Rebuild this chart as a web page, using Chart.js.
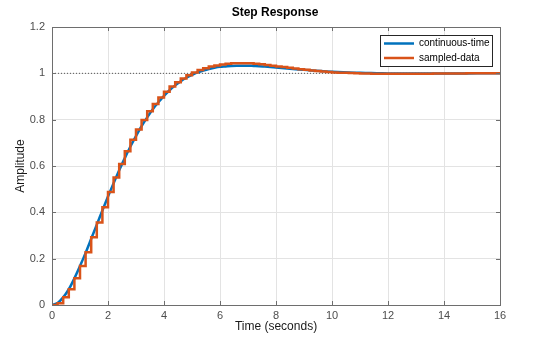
<!DOCTYPE html>
<html>
<head>
<meta charset="utf-8">
<title>Step Response</title>
<script src="https://cdn.jsdelivr.net/npm/chart.js@4/dist/chart.umd.min.js"></script>
<style>
  html, body { margin: 0; padding: 0; background: #fff; }
</style>
</head>
<body>
<canvas id="step-chart" width="550" height="348"></canvas>
<script>
// continuous-time response (time in seconds, amplitude)
const tCont = [0, 0.2, 0.4, 0.6, 0.8, 1.0, 1.2, 1.4, 1.6, 1.8,
               2.0, 2.2, 2.4, 2.6, 2.8, 3.0, 3.2, 3.4, 3.6, 3.8,
               4.0, 4.2, 4.4, 4.6, 4.8, 5.0, 5.2, 5.4, 5.6, 5.8,
               6.0, 6.2, 6.4, 6.6, 6.8, 7.0, 7.2, 7.4, 7.6, 7.8,
               8.0, 8.4, 8.8, 9.2, 9.6, 10, 10.4, 10.8, 11.2, 11.6,
               12, 12.8, 13.6, 14.4, 15.2, 16];
const yCont = [0, 0.009, 0.033, 0.068, 0.115, 0.168, 0.225, 0.286, 0.347, 0.408,
               0.468, 0.526, 0.582, 0.634, 0.684, 0.729, 0.772, 0.810, 0.845, 0.875,
               0.903, 0.927, 0.948, 0.966, 0.981, 0.993, 1.004, 1.012, 1.019, 1.024,
               1.028, 1.030, 1.032, 1.033, 1.033, 1.033, 1.032, 1.031, 1.029, 1.027,
               1.025, 1.021, 1.017, 1.013, 1.010, 1.007, 1.005, 1.003, 1.0015, 1.0004,
               0.9997, 0.9993, 0.9993, 0.9996, 0.9999, 1.0];

// sampled-data response, one value per sample (Ts = 0.2 s)
const sampleTime = 0.2;
const ySamp = [0, 0.008, 0.033, 0.068, 0.115, 0.168, 0.228, 0.292, 0.356, 0.422,
               0.488, 0.550, 0.609, 0.664, 0.713, 0.758, 0.799, 0.836, 0.868, 0.896,
               0.921, 0.943, 0.962, 0.978, 0.992, 1.004, 1.014, 1.022, 1.029, 1.034,
               1.038, 1.041, 1.043, 1.044, 1.044, 1.043, 1.041, 1.039, 1.036, 1.033,
               1.030, 1.027, 1.024, 1.021, 1.018, 1.015, 1.012, 1.010, 1.008, 1.006,
               1.004, 1.003, 1.002, 1.001, 1.000, 0.999, 0.999, 0.998, 0.998, 0.998,
               0.998, 0.998, 0.998, 0.998, 0.998, 0.998, 0.998, 0.998, 0.999, 0.999,
               0.999, 0.999, 0.999, 0.999, 1.000, 1.000, 1.000, 1.000, 1.000, 1.000,
               1.000];

// steady-state value, drawn as a dotted reference
const finalValue = 1;

const xTicks = [0, 2, 4, 6, 8, 10, 12, 14, 16];
const yTicks = [0, 0.2, 0.4, 0.6, 0.8, 1.0, 1.2];

const FONT = '"Liberation Sans", Arial, Helvetica, sans-serif';
const BLUE = '#0072BD';
const ORANGE = '#D95319';
const AXIS = '#6e6e6e';
const GRID = '#e3e3e3';

const contPoints = tCont.map((t, i) => ({ x: t, y: yCont[i] }));
const sampPoints = ySamp.map((v, k) => ({ x: k * sampleTime, y: v }));
const refPoints = [{ x: xTicks[0], y: finalValue }, { x: xTicks[xTicks.length - 1], y: finalValue }];

// small tick marks pointing into the plot box on all four sides
const innerTicks = {
  id: 'innerTicks',
  afterDatasetsDraw(chart) {
    const { ctx, chartArea: a, scales } = chart;
    const len = 4;
    ctx.save();
    ctx.strokeStyle = AXIS;
    ctx.lineWidth = 1;
    ctx.beginPath();
    xTicks.forEach(v => {
      const px = Math.round(scales.x.getPixelForValue(v)) + 0.5;
      ctx.moveTo(px, a.bottom); ctx.lineTo(px, a.bottom - len);
      ctx.moveTo(px, a.top); ctx.lineTo(px, a.top + len);
    });
    yTicks.forEach(v => {
      const py = Math.round(scales.y.getPixelForValue(v)) + 0.5;
      ctx.moveTo(a.left, py); ctx.lineTo(a.left + len, py);
      ctx.moveTo(a.right, py); ctx.lineTo(a.right - len, py);
    });
    ctx.stroke();
    ctx.restore();
  }
};

// boxed legend in the upper right corner of the axes
const legendBox = {
  id: 'legendBox',
  afterDraw(chart) {
    const { ctx, chartArea: a } = chart;
    const w = 112, h = 31;
    const x0 = Math.round(a.right - w - 8), y0 = Math.round(a.top + 8);
    const rows = [
      { label: 'continuous-time', color: BLUE },
      { label: 'sampled-data', color: ORANGE }
    ];
    ctx.save();
    ctx.fillStyle = '#fff';
    ctx.fillRect(x0, y0, w, h);
    ctx.strokeStyle = '#262626';
    ctx.lineWidth = 1;
    ctx.strokeRect(x0 + 0.5, y0 + 0.5, w, h);
    ctx.font = '10px ' + FONT;
    ctx.textBaseline = 'middle';
    rows.forEach((r, i) => {
      const yy = y0 + 8.5 + i * 14.5;
      ctx.strokeStyle = r.color;
      ctx.lineWidth = 2.5;
      ctx.beginPath();
      ctx.moveTo(x0 + 4, yy);
      ctx.lineTo(x0 + 34, yy);
      ctx.stroke();
      ctx.fillStyle = '#000';
      ctx.fillText(r.label, x0 + 39, yy);
    });
    ctx.restore();
  }
};

const ctx = document.getElementById('step-chart').getContext('2d');
const stepChart = new Chart(ctx, {
  type: 'line',
  data: {
    datasets: [
      {
        label: 'sampled-data',
        data: sampPoints,
        borderColor: ORANGE,
        borderWidth: 2.5,
        stepped: true,
        pointRadius: 0,
        fill: false,
        order: 1
      },
      {
        label: 'continuous-time',
        data: contPoints,
        borderColor: BLUE,
        borderWidth: 2.5,
        tension: 0.3,
        pointRadius: 0,
        fill: false,
        order: 2
      },
      {
        label: 'final value',
        data: refPoints,
        borderColor: '#555',
        borderWidth: 1,
        borderDash: [1, 2],
        pointRadius: 0,
        fill: false,
        order: 3
      }
    ]
  },
  options: {
    responsive: false,
    animation: false,
    events: [],
    layout: { padding: 0 },
    scales: {
      x: {
        type: 'linear',
        position: 'bottom',
        min: 0,
        max: 16,
        afterBuildTicks: s => { s.ticks = xTicks.map(v => ({ value: v })); },
        afterFit: s => { s.height = 43; },
        ticks: {
          color: '#4d4d4d',
          font: { family: FONT, size: 11 },
          padding: 4,
          maxRotation: 0
        },
        grid: { color: GRID, drawTicks: false },
        border: { color: AXIS },
        title: {
          display: true,
          text: 'Time (seconds)',
          color: '#1a1a1a',
          font: { family: FONT, size: 12 },
          padding: { top: 0, bottom: 14 }
        }
      },
      y: {
        type: 'linear',
        position: 'left',
        min: 0,
        max: 1.2,
        afterBuildTicks: s => { s.ticks = yTicks.map(v => ({ value: v })); },
        afterFit: s => { s.width = 52; },
        ticks: {
          color: '#4d4d4d',
          font: { family: FONT, size: 11 },
          padding: 7,
          callback: v => String(Math.round(v * 10) / 10)
        },
        grid: { color: GRID, drawTicks: false },
        border: { color: AXIS },
        title: {
          display: true,
          text: 'Amplitude',
          color: '#1a1a1a',
          font: { family: FONT, size: 12 },
          padding: { top: 13, bottom: 0 }
        }
      },
      // right and top edges of the plot box
      y2: {
        type: 'linear',
        position: 'right',
        min: 0,
        max: 1.2,
        afterFit: s => { s.width = 50; },
        ticks: { display: false },
        grid: { display: false },
        border: { color: AXIS }
      },
      x2: {
        type: 'linear',
        position: 'top',
        min: 0,
        max: 16,
        afterFit: s => { s.height = 0; },
        ticks: { display: false },
        grid: { display: false },
        border: { color: AXIS }
      }
    },
    plugins: {
      legend: { display: false },
      tooltip: { enabled: false },
      title: {
        display: true,
        text: 'Step Response',
        color: '#000',
        font: { family: FONT, size: 12, weight: 'bold' },
        padding: { top: 5, bottom: 7.6 }
      }
    }
  },
  plugins: [innerTicks, legendBox]
});
</script>
</body>
</html>
